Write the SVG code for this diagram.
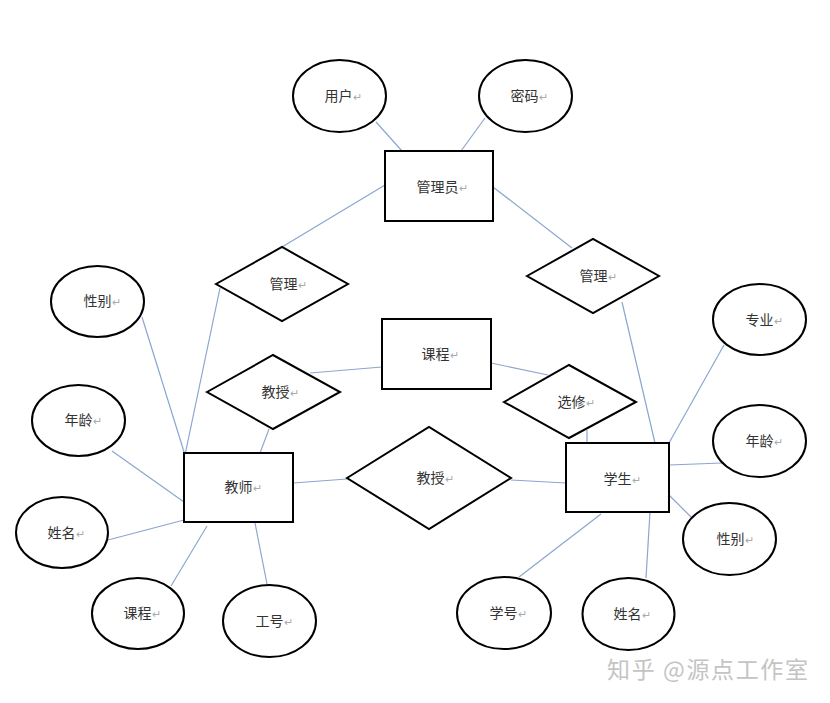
<svg xmlns="http://www.w3.org/2000/svg" width="830" height="703" viewBox="0 0 830 703">
<style>
.s{fill:#fff;stroke:#000;stroke-width:2}
.c line{stroke:#8ba6d0;stroke-width:1.2}
.t{font-family:"Noto Sans CJK SC","Liberation Sans",sans-serif;font-size:14px;fill:#333;text-anchor:middle}
.r{fill:#aaa;font-size:11px}
.w{font-family:"Noto Sans CJK SC","Liberation Sans",sans-serif;font-size:23px;fill:#c4c4c4}
</style>
<rect width="830" height="703" fill="#fff"/>
<g class="c">
<line x1="376" y1="122" x2="402" y2="151"/>
<line x1="485" y1="118" x2="461" y2="151"/>
<line x1="385" y1="185" x2="282" y2="247"/>
<line x1="493" y1="187" x2="572" y2="248"/>
<line x1="220" y1="288" x2="185" y2="455"/>
<line x1="622" y1="302" x2="655" y2="443"/>
<line x1="310" y1="373" x2="382" y2="367"/>
<line x1="269" y1="429" x2="260" y2="453"/>
<line x1="491" y1="363" x2="548" y2="375"/>
<line x1="587" y1="430" x2="587" y2="443"/>
<line x1="293" y1="483" x2="347" y2="479"/>
<line x1="511" y1="480" x2="566" y2="483"/>
<line x1="724" y1="345" x2="669" y2="443"/>
<line x1="669" y1="465" x2="722" y2="463"/>
<line x1="669" y1="495" x2="691" y2="517"/>
<line x1="601" y1="514" x2="519" y2="577"/>
<line x1="650" y1="512" x2="646" y2="578"/>
<line x1="142" y1="317" x2="185" y2="455"/>
<line x1="112" y1="451" x2="184" y2="502"/>
<line x1="108" y1="540" x2="184" y2="520"/>
<line x1="207" y1="526" x2="171" y2="586"/>
<line x1="255" y1="523" x2="267" y2="584"/>
</g>
<g id="admin"><rect class="s" x="385" y="151" width="108" height="70"/><text class="t" x="442" y="192">管理员<tspan class="r">↵</tspan></text></g>
<g id="user"><ellipse class="s" cx="339.5" cy="96" rx="46.5" ry="36"/><text class="t" x="343" y="101">用户<tspan class="r">↵</tspan></text></g>
<g id="pwd"><ellipse class="s" cx="525.5" cy="96" rx="46.5" ry="36"/><text class="t" x="529" y="101">密码<tspan class="r">↵</tspan></text></g>
<g id="manage1"><polygon class="s" points="216,284 282,247 348,284 282,321"/><text class="t" x="288" y="289">管理<tspan class="r">↵</tspan></text></g>
<g id="manage2"><polygon class="s" points="527,276 593,239 659,276 593,313"/><text class="t" x="598" y="281">管理<tspan class="r">↵</tspan></text></g>
<g id="course"><rect class="s" x="382" y="319" width="109" height="70"/><text class="t" x="440" y="359">课程<tspan class="r">↵</tspan></text></g>
<g id="teach1"><polygon class="s" points="207,392 273,355 340,392 273,429"/><text class="t" x="280" y="397">教授<tspan class="r">↵</tspan></text></g>
<g id="elective"><polygon class="s" points="504,402 569,365 636,402 569,438"/><text class="t" x="576" y="407">选修<tspan class="r">↵</tspan></text></g>
<g id="teacher"><rect class="s" x="184" y="453" width="109" height="69"/><text class="t" x="243" y="492">教师<tspan class="r">↵</tspan></text></g>
<g id="teach2"><polygon class="s" points="347,478 429,427 511,478 429,529"/><text class="t" x="435" y="483">教授<tspan class="r">↵</tspan></text></g>
<g id="student"><rect class="s" x="566" y="443" width="103" height="69"/><text class="t" x="622" y="484">学生<tspan class="r">↵</tspan></text></g>
<g id="major"><ellipse class="s" cx="759.5" cy="319.5" rx="46.5" ry="35.5"/><text class="t" x="764" y="325">专业<tspan class="r">↵</tspan></text></g>
<g id="sage"><ellipse class="s" cx="759.5" cy="441" rx="46.5" ry="36"/><text class="t" x="764" y="446">年龄<tspan class="r">↵</tspan></text></g>
<g id="ssex"><ellipse class="s" cx="729.5" cy="539" rx="46.5" ry="36"/><text class="t" x="735" y="544">性别<tspan class="r">↵</tspan></text></g>
<g id="sno"><ellipse class="s" cx="504" cy="613" rx="47" ry="36"/><text class="t" x="508" y="618">学号<tspan class="r">↵</tspan></text></g>
<g id="sname"><ellipse class="s" cx="628.5" cy="614" rx="46" ry="36"/><text class="t" x="632" y="619">姓名<tspan class="r">↵</tspan></text></g>
<g id="tsex"><ellipse class="s" cx="97.5" cy="301.5" rx="46.5" ry="35.5"/><text class="t" x="102" y="306">性别<tspan class="r">↵</tspan></text></g>
<g id="tage"><ellipse class="s" cx="78.5" cy="420.5" rx="46.5" ry="35.5"/><text class="t" x="83" y="425">年龄<tspan class="r">↵</tspan></text></g>
<g id="tname"><ellipse class="s" cx="62" cy="532.5" rx="46" ry="35.5"/><text class="t" x="66" y="538">姓名<tspan class="r">↵</tspan></text></g>
<g id="tcourse"><ellipse class="s" cx="138" cy="613.5" rx="46" ry="35.5"/><text class="t" x="142" y="618">课程<tspan class="r">↵</tspan></text></g>
<g id="tno"><ellipse class="s" cx="269.5" cy="621" rx="46.5" ry="36"/><text class="t" x="274" y="626">工号<tspan class="r">↵</tspan></text></g>
<text class="w" x="607" y="678" textLength="201">知乎 @源点工作室</text>
</svg>
